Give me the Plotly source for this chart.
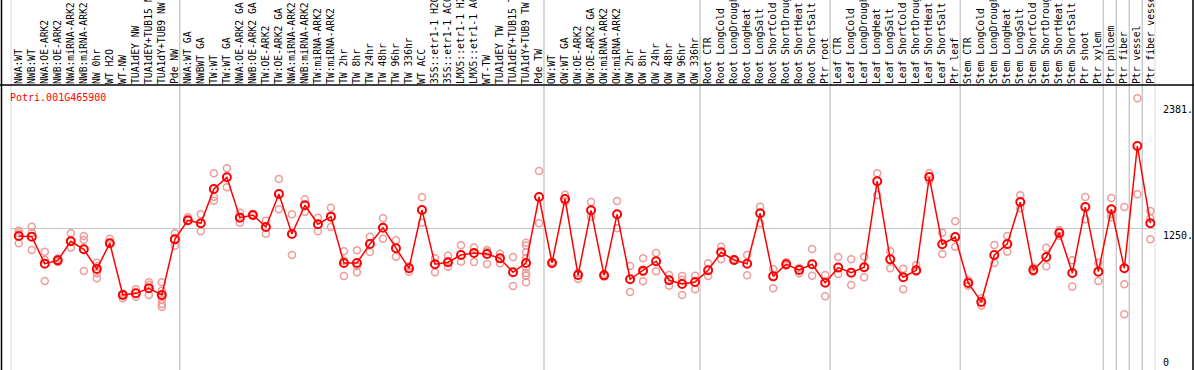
import plotly.graph_objects as go

# ---------------- data ----------------
categories = [
    "NWA:WT", "NWB:WT", "NWA:OE-ARK2", "NWB:OE-ARK2", "NWA:miRNA-ARK2", "NWB:miRNA-ARK2",
    "NW 0hr", "WT H2O", "WT-NW", "TUA1dEY NW", "TUA1dEY+TUB15 NW", "TUA1dY+TUB9 NW", "Pde NW",
    "NWA:WT GA", "NWBWT GA", "TW:WT", "TW:WT GA", "NWA:OE-ARK2 GA", "NWB:OE-ARK2 GA",
    "TW:OE-ARK2", "TW:OE-ARK2 GA", "NWA:miRNA-ARK2", "NWB:miRNA-ARK2", "TW:miRNA-ARK2",
    "TW:miRNA-ARK2", "TW 2hr", "TW 8hr", "TW 24hr", "TW 48hr", "TW 96hr", "TW 336hr",
    "WT ACC", "35S::etr1-1 H2O", "35S::etr1-1 ACC", "LMX5::etr1-1 H2O", "LMX5::etr1-1 ACC",
    "WT-TW", "TUA1dEY TW", "TUA1dEY+TUB15 TW", "TUA1dY+TUB9 TW", "Pde TW",
    "OW:WT", "OW:WT GA", "OW:OE-ARK2", "OW:OE-ARK2 GA", "OW:miRNA-ARK2", "OW:miRNA-ARK2",
    "OW 2hr", "OW 8hr", "OW 24hr", "OW 48hr", "OW 96hr", "OW 336hr",
    "Root CTR", "Root LongCold", "Root LongDrought", "Root LongHeat", "Root LongSalt",
    "Root ShortCold", "Root ShortDrought", "Root ShortHeat", "Root ShortSalt", "Ptr root",
    "Leaf CTR", "Leaf LongCold", "Leaf LongDrought", "Leaf LongHeat", "Leaf LongSalt",
    "Leaf ShortCold", "Leaf ShortDrought", "Leaf ShortHeat", "Leaf ShortSalt", "Ptr leaf",
    "Stem CTR", "Stem LongCold", "Stem LongDrought", "Stem LongHeat", "Stem LongSalt",
    "Stem ShortCold", "Stem ShortDrought", "Stem ShortHeat", "Stem ShortSalt", "Ptr shoot",
    "Ptr xylem", "Ptr phloem", "Ptr fiber", "Ptr vessel", "Ptr fiber vessel",
]

means = [
    1181, 1175, 933, 963, 1134, 1062, 886, 1116, 653, 668, 713, 653, 1151,
    1322, 1295, 1602, 1706, 1345, 1369, 1262, 1557, 1199, 1456, 1286, 1354,
    940, 940, 1110, 1255, 1071, 892, 1414, 928, 946, 1011, 1029, 1020, 981, 856, 940, 1530,
    940, 1512, 832, 1411, 829, 1375, 794, 871, 955, 785, 752, 770,
    874, 1035, 966, 933, 1384, 820, 928, 877, 928, 763,
    898, 853, 901, 1671, 972, 812, 874, 1709, 1107, 1172,
    760, 591, 1011, 1110, 1485, 877, 993, 1208, 850, 1440,
    862, 1420, 892, 1986, 1295,
]

replicates = [
    [1229, 1205, 1116], [1264, 1211, 1056], [1041, 966, 778], [980, 963, 950],
    [1205, 1134, 1077], [1181, 1145, 868], [942, 910, 847, 803], [1157, 1116],
    [665, 624, 653], [704, 638], [767, 745, 653], [767, 690, 638, 610, 573, 549],
    [1205, 1094],
    [1348, 1320], [1375, 1223], [1742, 1533, 1497], [1787, 1617], [1390, 1300],
    [1375, 1362], [1318, 1202], [1691, 1420], [1375, 1011], [1509, 1399],
    [1345, 1223], [1434, 1262], [1044, 960, 823], [1053, 910, 856], [1175, 1038],
    [1339, 1157], [1142, 996], [910, 862], [1527, 1300], [981, 856],
    [1005, 950, 906], [1098, 951], [1077, 948], [1056, 1040, 931], [1023, 937],
    [993, 734], [1121, 1095, 1035, 985, 900, 850, 825, 767], [1763, 1295],
    [950, 930], [1551, 1490], [850, 796], [1485, 1354], [840, 818], [1494, 1250],
    [913, 680], [981, 860, 776], [1029, 865], [832, 736], [823, 790, 653],
    [825, 704], [937, 823], [1085, 972], [975, 960], [1011, 829], [1443, 1295],
    [883, 713], [945, 915], [895, 847], [1065, 826], [832, 641],
    [993, 841], [972, 743], [996, 812], [1742, 1548], [1044, 892], [889, 704],
    [922, 860], [1742, 1680], [1211, 1020], [1313, 1085],
    [785, 735], [625, 560], [1100, 940], [1180, 1040], [1545, 1430], [900, 860],
    [1075, 910], [1235, 1180], [965, 730], [1530, 1330],
    [942, 778], [1521, 1378, 1348], [1441, 749, 481], [2413, 1554], [1405, 1340, 1152],
]

group_ends = [12, 40, 52, 62, 72, 83, 84, 85, 86, 87]
gene_id = "Potri.001G465900"
ytick_vals = [2381, 1250, 0]
ytick_text = ["2381.", "1250.", "0"]

# ---------------- figure ----------------
W, H = 1194, 370
FONT = "DejaVu Sans Mono"
plot_left, plot_right = 10.7, 1155.3
plot_top, plot_bottom = 85, 370

rep_x, rep_y = [], []
for i, reps in enumerate(replicates):
    for v in reps:
        rep_x.append(i)
        rep_y.append(v)

fig = go.Figure()
fig.add_trace(go.Scatter(
    x=rep_x, y=rep_y, mode="markers", hoverinfo="skip",
    marker=dict(symbol="circle-open", size=7, color="#f09a9a", line=dict(width=1.5, color="#f09a9a")),
))
fig.add_trace(go.Scatter(
    x=list(range(len(categories))), y=means, mode="lines+markers",
    line=dict(color="#ff0000", width=1.5),
    marker=dict(symbol="circle-open", size=8, color="#ff0000", line=dict(width=2, color="#ff0000")),
))

shapes = []
for xv in [-0.62] + [g + 0.38 for g in group_ends]:
    shapes.append(dict(type="line", xref="x", yref="paper", x0=xv, x1=xv, y0=0, y1=1,
                       line=dict(color="#c4c4c4", width=1.3), layer="below"))
ytop = (H - plot_top) / H
shapes += [
    dict(type="line", xref="paper", yref="paper", x0=0, x1=1, y0=ytop, y1=ytop,
         line=dict(color="black", width=1.5)),
    dict(type="line", xref="paper", yref="paper", x0=1.5 / W, x1=1.5 / W, y0=0, y1=1,
         line=dict(color="black", width=1.5)),
    dict(type="line", xref="paper", yref="paper", x0=1193 / W, x1=1193 / W, y0=0, y1=1,
         line=dict(color="black", width=1.5)),
]

annotations = [dict(
    text=gene_id, xref="paper", yref="paper", x=8 / W, y=(H - 97) / H,
    xanchor="left", yanchor="middle", showarrow=False,
    font=dict(family=FONT, size=10, color="#ff0000"),
)]
for v, t in zip(ytick_vals, ytick_text):
    annotations.append(dict(
        text=t, xref="paper", yref="y", x=1161 / W, y=v,
        xanchor="left", yanchor="bottom" if v == 0 else "top", showarrow=False,
        yshift=-2 if v == 0 else 0,
        font=dict(family=FONT, size=10, color="black"),
    ))

fig.update_layout(
    width=W, height=H, margin=dict(l=0, r=0, t=0, b=0),
    paper_bgcolor="white", plot_bgcolor="white", showlegend=False,
    shapes=shapes, annotations=annotations,
    xaxis=dict(
        domain=[plot_left / W, plot_right / W], range=[-0.62, 87.38],
        tickvals=list(range(len(categories))), ticktext=categories,
        side="top", tickangle=-90, ticks="", showgrid=False, zeroline=False,
        showline=False, automargin=False,
        tickfont=dict(family=FONT, size=9.7, color="black"),
    ),
    yaxis=dict(
        domain=[0, (H - plot_top) / H], range=[-18, 2532],
        tickvals=[1250], showticklabels=False, showgrid=True, gridcolor="#c4c4c4",
        gridwidth=1.3, zeroline=False, showline=False, automargin=False,
    ),
)

fig.write_html(
    "out.html",
    config={"displayModeBar": False, "staticPlot": True},
    post_script="document.body.style.margin='0';document.body.style.overflow='hidden';",
)
